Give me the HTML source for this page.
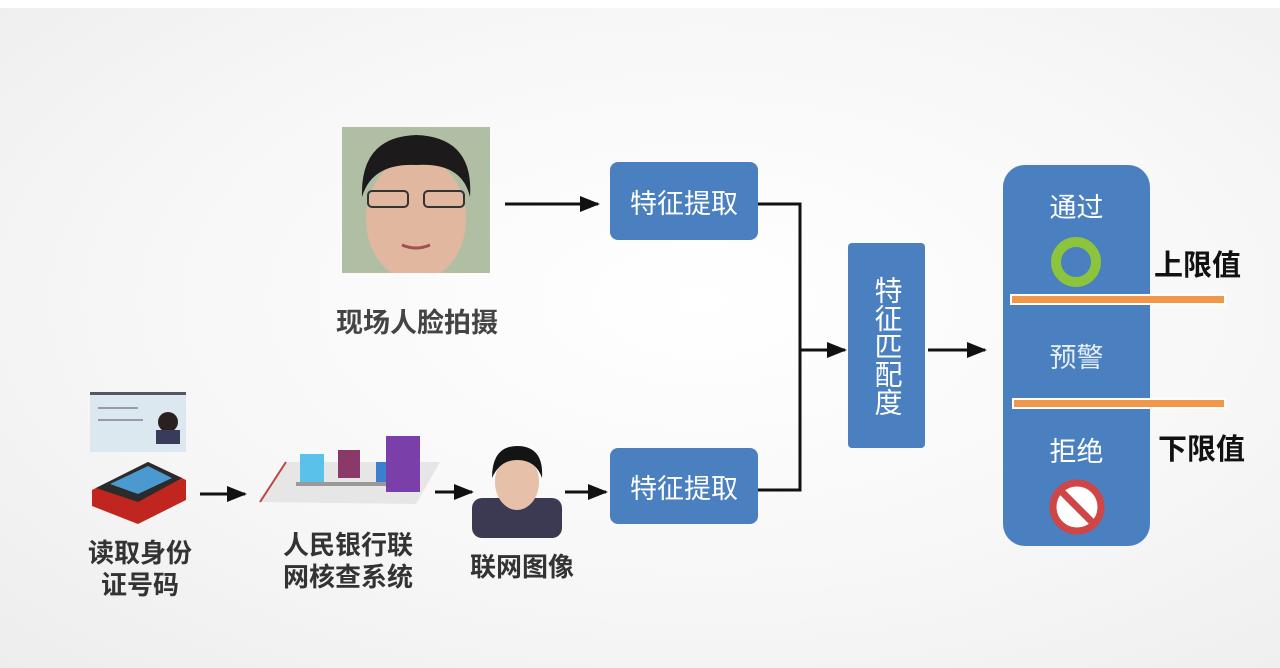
<!DOCTYPE html>
<html><head><meta charset="utf-8"><style>
*{margin:0;padding:0}
body{width:1280px;height:668px;overflow:hidden;background:radial-gradient(ellipse at 55% 45%,#ffffff 0%,#f7f7f7 55%,#ededed 100%);position:relative;font-family:"Liberation Sans","Noto Sans CJK SC",sans-serif}
.a{position:absolute}
.box{position:absolute;background:#4a7fc0;border-radius:8px;color:#fff;display:flex;align-items:center;justify-content:center;font-size:27px}
.lbl{position:absolute;color:#333;font-size:26px;text-align:center;font-weight:bold;line-height:32px}
</style></head><body>
<div class="a" style="left:0;top:0;width:1280px;height:8px;background:#fff"></div>
<svg class="a" style="left:342px;top:127px" width="148" height="146">
<rect width="148" height="146" fill="#8aa07a"/>
<rect x="0" y="0" width="148" height="146" fill="#c9d4c0" opacity=".6"/>
<ellipse cx="74" cy="92" rx="50" ry="62" fill="#e2b7a0"/>
<path d="M20 70 Q18 10 74 8 Q132 10 128 70 Q120 35 74 38 Q30 36 20 70Z" fill="#1c1a1a"/>
<rect x="26" y="64" width="40" height="16" rx="4" fill="none" stroke="#333" stroke-width="2"/>
<rect x="82" y="64" width="40" height="16" rx="4" fill="none" stroke="#333" stroke-width="2"/>
<path d="M60 118 Q74 124 88 118" stroke="#a05050" stroke-width="3" fill="none"/>
</svg>
<div class="lbl" style="left:297px;top:307px;width:240px;font-size:27px;color:#444">现场人脸拍摄</div>
<svg class="a" style="left:0;top:0" width="1280" height="668">
<defs><marker id="m2" markerWidth="20" markerHeight="16" refX="18" refY="8" orient="auto" markerUnits="userSpaceOnUse"><path d="M0 0L20 8L0 16Z" fill="#111"/></marker></defs>
<line x1="505" y1="204" x2="598" y2="204" stroke="#111" stroke-width="3" marker-end="url(#m2)"/>
<polyline points="758,204 800,204 800,490 758,490" fill="none" stroke="#111" stroke-width="3"/>
<line x1="800" y1="350" x2="845" y2="350" stroke="#111" stroke-width="3" marker-end="url(#m2)"/>
<line x1="928" y1="350" x2="985" y2="350" stroke="#111" stroke-width="3" marker-end="url(#m2)"/>
<line x1="200" y1="494" x2="245" y2="494" stroke="#111" stroke-width="3" marker-end="url(#m2)"/>
<line x1="435" y1="492" x2="472" y2="492" stroke="#111" stroke-width="3" marker-end="url(#m2)"/>
<line x1="565" y1="492" x2="606" y2="492" stroke="#111" stroke-width="3" marker-end="url(#m2)"/>
</svg>
<div class="box" style="left:610px;top:162px;width:148px;height:78px">特征提取</div>
<div class="box" style="left:610px;top:448px;width:148px;height:76px">特征提取</div>
<div class="box" style="left:848px;top:243px;width:77px;height:205px;writing-mode:vertical-rl;font-size:28px;line-height:32px;border-radius:4px">特征匹配度</div>
<div class="a" style="left:1003px;top:165px;width:147px;height:381px;background:#4a7fc0;border-radius:22px"></div>
<div class="a" style="left:1003px;top:186px;width:147px;text-align:center;color:#fff;font-size:27px">通过</div>
<div class="a" style="left:1051px;top:237px;width:30px;height:30px;border:10px solid #8cc43c;border-radius:50%"></div>
<div class="a" style="left:1010px;top:294px;width:212px;height:7px;background:#f0974a;border:2px solid #fff"></div>
<div class="a" style="left:1003px;top:336px;width:147px;text-align:center;color:#e6eef8;font-size:27px">预警</div>
<div class="a" style="left:1012px;top:398px;width:210px;height:7px;background:#f0974a;border:2px solid #fff"></div>
<div class="a" style="left:1003px;top:430px;width:147px;text-align:center;color:#fff;font-size:27px">拒绝</div>
<svg class="a" style="left:1047px;top:477px" width="60" height="60"><circle cx="30" cy="30" r="24" fill="#fff" stroke="#d04545" stroke-width="7"/><line x1="14" y1="14" x2="46" y2="46" stroke="#d04545" stroke-width="7"/></svg>
<div class="a" style="left:1154px;top:242px;font-size:29px;font-weight:bold;color:#111">上限值</div>
<div class="a" style="left:1158px;top:426px;font-size:29px;font-weight:bold;color:#111">下限值</div>
<svg class="a" style="left:88px;top:390px" width="100" height="134">
<rect x="2" y="2" width="96" height="60" fill="#dbe8ef"/><rect x="2" y="2" width="96" height="3" fill="#556"/>
<circle cx="80" cy="32" r="10" fill="#2a2020"/><rect x="68" y="40" width="24" height="14" fill="#3a3a5a"/>
<line x1="10" y1="18" x2="50" y2="18" stroke="#99a" stroke-width="2"/><line x1="10" y1="30" x2="55" y2="30" stroke="#99a" stroke-width="2"/>
<path d="M4 100 L60 72 L98 90 L98 110 L50 134 L4 116Z" fill="#c0261f"/>
<path d="M8 98 L60 72 L94 88 L50 112Z" fill="#2b2b2b"/><path d="M22 94 L60 76 L84 88 L50 104Z" fill="#4a9ad0"/>
</svg>
<svg class="a" style="left:256px;top:432px" width="186" height="76">
<path d="M4 70 L30 30 L184 30 L160 72Z" fill="#e6e6e6"/>
<line x1="4" y1="70" x2="30" y2="30" stroke="#b44" stroke-width="2"/>
<rect x="44" y="22" width="24" height="30" fill="#5ac2ea"/>
<rect x="82" y="18" width="22" height="28" fill="#8a3a6a"/>
<rect x="120" y="30" width="10" height="20" fill="#3a7fd0"/>
<rect x="130" y="4" width="34" height="56" fill="#7a3fa8"/>
<rect x="40" y="50" width="90" height="4" fill="#999"/>
</svg>
<svg class="a" style="left:472px;top:438px" width="90" height="100">
<rect x="0" y="60" width="90" height="40" fill="#3c3a52" rx="10"/>
<ellipse cx="45" cy="44" rx="22" ry="28" fill="#e6c0a8"/>
<path d="M20 40 Q20 8 45 8 Q72 8 70 40 Q64 22 45 22 Q28 22 20 40Z" fill="#151414"/>
</svg>
<div class="lbl" style="left:50px;top:537px;width:180px">读取身份<br>证号码</div>
<div class="lbl" style="left:248px;top:529px;width:200px">人民银行联<br>网核查系统</div>
<div class="lbl" style="left:442px;top:551px;width:160px">联网图像</div>
</body></html>
